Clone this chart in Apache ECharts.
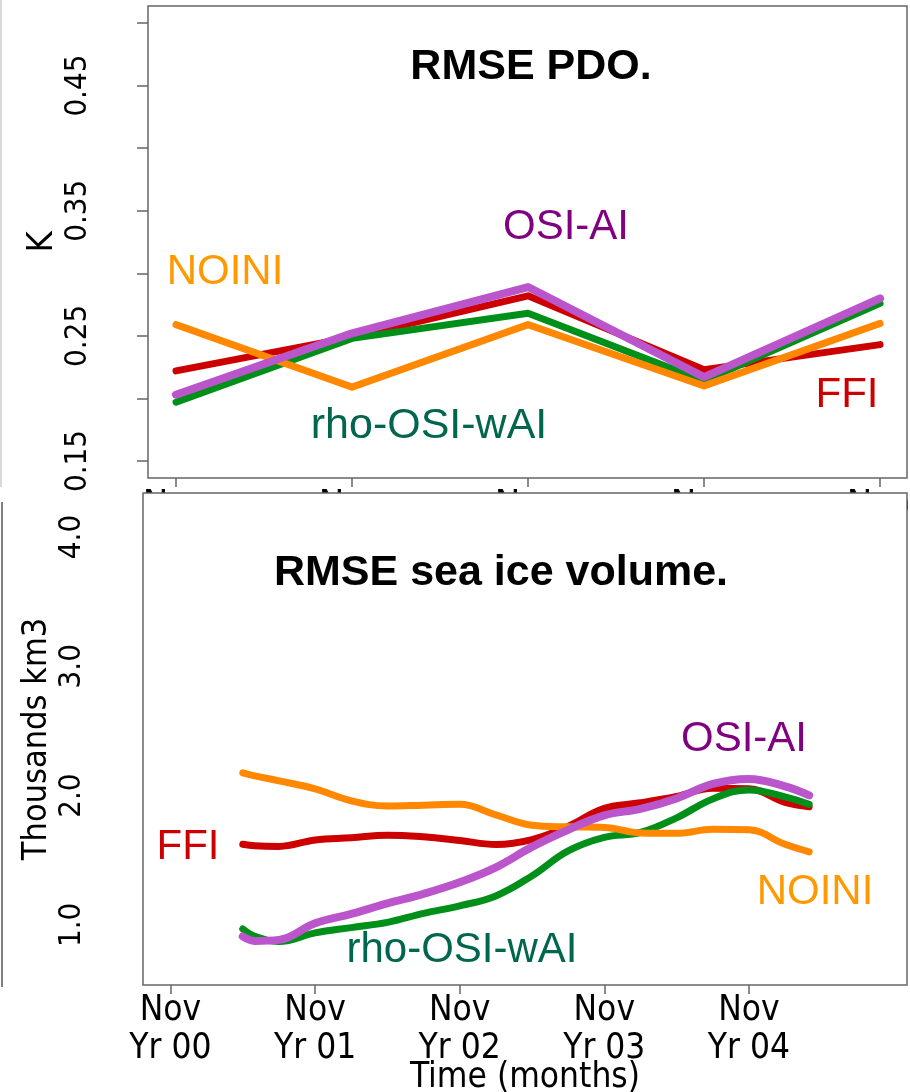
<!DOCTYPE html>
<html>
<head>
<meta charset="utf-8">
<script src="https://cdn.jsdelivr.net/npm/echarts@6/dist/echarts.min.js"></script>
<style>
  html, body { margin: 0; padding: 0; background: #fff; }
  #chart { width: 910px; height: 1092px; }
</style>
</head>
<body>
<div id="chart"></div>
<script>
// top panel: RMSE PDO, one value per forecast year
const pdoYears = [1, 2, 3, 4, 5];
const pdoYTicks = [0.15, 0.2, 0.25, 0.3, 0.35, 0.4, 0.45, 0.5];
const pdoYLabels = [0.15, 0.25, 0.35, 0.45];
const pdoFfi = [0.222, 0.249, 0.282, 0.223, 0.243];
const pdoRho = [0.197, 0.248, 0.268, 0.214, 0.276];
const pdoNoini = [0.259, 0.209, 0.259, 0.210, 0.260];
const pdoOsi = [0.203, 0.252, 0.289, 0.217, 0.280];

// bottom panel: RMSE sea ice volume, months after Nov Yr 00
const iceMonths = [6, 7, 9, 12, 15, 18, 21, 24, 27, 30, 33, 36, 39, 42, 45, 48, 51, 53];
const iceFfi = [1.623, 1.611, 1.607, 1.657, 1.674, 1.694, 1.681, 1.653, 1.622, 1.660, 1.762, 1.901, 1.944, 1.994, 2.056, 2.052, 1.947, 1.913];
const iceRho = [0.969, 0.911, 0.872, 0.938, 0.979, 1.019, 1.089, 1.147, 1.224, 1.379, 1.572, 1.677, 1.715, 1.828, 1.974, 2.044, 1.990, 1.932];
const iceNoini = [2.176, 2.152, 2.114, 2.052, 1.959, 1.920, 1.926, 1.932, 1.851, 1.770, 1.758, 1.754, 1.711, 1.708, 1.739, 1.735, 1.623, 1.565];
const iceOsi = [0.911, 0.876, 0.884, 1.012, 1.085, 1.166, 1.240, 1.329, 1.445, 1.603, 1.735, 1.847, 1.897, 1.978, 2.090, 2.129, 2.071, 2.002];
const iceXTicks = [0, 12, 24, 36, 48];
const iceYTicks = [1, 1.5, 2, 2.5, 3, 3.5, 4];
const iceYLabels = [1, 2, 3, 4];

const xTickLabels = ["Nov\nYr 00", "Nov\nYr 01", "Nov\nYr 02", "Nov\nYr 03", "Nov\nYr 04"];

const narrow = "'DejaVu Sans Condensed', 'Liberation Sans', sans-serif";
const sans = "'Liberation Sans', Arial, sans-serif";
const axisGrey = "#666";

const colors = {
  ffi: "#cc0000",
  rho: "#00901a",
  noini: "#ff8800",
  osi: "#bb55cc",
};

function pairs(xs, ys) {
  return xs.map((x, i) => [x, ys[i]]);
}

function lineSeries(name, xi, xs, ys, color, width, smooth) {
  return {
    name: name,
    type: "line",
    xAxisIndex: xi,
    yAxisIndex: xi,
    data: pairs(xs, ys),
    smooth: smooth,
    showSymbol: false,
    lineStyle: { color: color, width: width, cap: "round", join: "round" },
  };
}

function label(text, x, y, color, size, bold) {
  return {
    type: "text",
    x: x,
    y: y,
    z: 10,
    style: {
      text: text,
      fill: color,
      font: (bold ? "bold " : "") + size + "px " + sans,
      textAlign: "center",
      textVerticalAlign: "middle",
    },
  };
}

const tickStyle = { color: axisGrey, width: 1.5 };

var myChart = echarts.init(document.getElementById("chart"), null, { renderer: "canvas" });

var option = {
  animation: false,
  backgroundColor: "#fff",
  grid: [
    { left: 148, top: 6, width: 759, height: 472, outerBoundsMode: "none", containLabel: false,
      show: true, borderColor: axisGrey, borderWidth: 1.5, backgroundColor: "#fff" },
    { left: 143, top: 493, width: 764, height: 492, outerBoundsMode: "none", containLabel: false, show: false },
  ],
  xAxis: [
    {
      gridIndex: 0,
      type: "value",
      min: 0.841,
      max: 5.153,
      axisLine: { show: false },
      splitLine: { show: false },
      axisTick: { customValues: pdoYears, length: 9, lineStyle: tickStyle },
      axisLabel: {
        customValues: pdoYears,
        // only the first line shows above the lower panel
        formatter: (v) => xTickLabels[Math.round(v) - 1].split("\n")[0],
        margin: 9,
        color: "#000",
        fontSize: 38,
        fontFamily: narrow,
      },
    },
    {
      gridIndex: 1,
      type: "value",
      min: -2.28,
      max: 61.12,
      axisLine: { show: false },
      splitLine: { show: false },
      axisTick: { customValues: iceXTicks, length: 9, lineStyle: tickStyle },
      axisLabel: {
        customValues: iceXTicks,
        formatter: (v) => xTickLabels[Math.round(v / 12)],
        margin: 7,
        lineHeight: 38,
        color: "#000",
        fontSize: 35,
        fontFamily: narrow,
      },
      name: "Time (months)",
      nameLocation: "middle",
      nameGap: 75,
      nameMoveOverlap: false,
      nameTextStyle: { color: "#000", fontSize: 35, fontFamily: narrow },
    },
  ],
  yAxis: [
    {
      gridIndex: 0,
      type: "value",
      min: 0.1364,
      max: 0.5136,
      axisLine: { show: false },
      splitLine: { show: false },
      axisTick: { customValues: pdoYTicks, length: 11, lineStyle: tickStyle },
      axisLabel: {
        customValues: pdoYLabels,
        formatter: (v) => v.toFixed(2),
        rotate: 90,
        margin: 55,
        color: "#000",
        fontSize: 31,
        fontFamily: narrow,
      },
      name: "K",
      nameLocation: "middle",
      nameRotate: 90,
      nameGap: 87,
      nameMoveOverlap: false,
      nameTextStyle: { color: "#000", fontSize: 36, fontFamily: narrow },
    },
    {
      gridIndex: 1,
      type: "value",
      min: 0.535,
      max: 4.34,
      axisLine: { show: false },
      splitLine: { show: false },
      axisTick: { customValues: iceYTicks, length: 11, lineStyle: tickStyle },
      axisLabel: {
        customValues: iceYLabels,
        formatter: (v) => v.toFixed(1),
        rotate: 90,
        margin: 56,
        color: "#000",
        fontSize: 31,
        fontFamily: narrow,
      },
      name: "Thousands km3",
      nameLocation: "middle",
      nameRotate: 90,
      nameGap: 89,
      nameMoveOverlap: false,
      nameTextStyle: { color: "#000", fontSize: 34, fontFamily: narrow },
    },
  ],
  series: [
    lineSeries("FFI", 0, pdoYears, pdoFfi, colors.ffi, 7, false),
    lineSeries("rho-OSI-wAI", 0, pdoYears, pdoRho, colors.rho, 7, false),
    lineSeries("NOINI", 0, pdoYears, pdoNoini, colors.noini, 7, false),
    lineSeries("OSI-AI", 0, pdoYears, pdoOsi, colors.osi, 8, false),
    lineSeries("FFI", 1, iceMonths, iceFfi, colors.ffi, 7, 0.4),
    lineSeries("rho-OSI-wAI", 1, iceMonths, iceRho, colors.rho, 7, 0.4),
    lineSeries("NOINI", 1, iceMonths, iceNoini, colors.noini, 7, 0.4),
    lineSeries("OSI-AI", 1, iceMonths, iceOsi, colors.osi, 8, 0.4),
  ],
  graphic: [
    // lower panel box, also hides the clipped labels of the upper axis
    {
      type: "rect",
      z: 1,
      shape: { x: 143, y: 493, width: 764, height: 492 },
      style: { fill: "#fff", stroke: axisGrey, lineWidth: 1.5 },
    },
    { type: "rect", z: 1, shape: { x: 908, y: 480, width: 4, height: 80 }, style: { fill: "#fff" } },
    // edges of neighbouring panels
    { type: "line", z: 1, shape: { x1: 1, y1: 0, x2: 1, y2: 487 }, style: { stroke: "#ccc", lineWidth: 1.5 } },
    { type: "line", z: 1, shape: { x1: 2, y1: 502, x2: 2, y2: 987 }, style: { stroke: "#555", lineWidth: 1.5 } },
    label("RMSE PDO.", 531, 67, "#000", 43, true),
    label("OSI-AI", 566, 227, "#800080", 42),
    label("NOINI", 225, 272, "#ff9900", 42),
    label("rho-OSI-wAI", 429, 426, "#00664d", 43),
    label("FFI", 847, 395, "#cc0000", 42),
    label("RMSE sea ice volume.", 501, 573, "#000", 43, true),
    label("OSI-AI", 744, 739, "#800080", 42),
    label("FFI", 188, 847, "#cc0000", 42),
    label("NOINI", 815, 892, "#ff9900", 42),
    label("rho-OSI-wAI", 462, 950, "#00664d", 42),
  ],
};

myChart.setOption(option);
</script>
</body>
</html>
